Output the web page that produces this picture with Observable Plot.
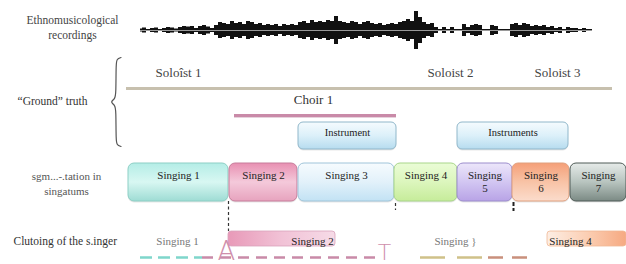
<!DOCTYPE html>
<html><head><meta charset="utf-8">
<script src="https://cdn.jsdelivr.net/npm/d3@7"></script>
<script src="https://cdn.jsdelivr.net/npm/@observablehq/plot@0.6"></script>
<style>body{margin:0;background:#fff}</style>
</head><body><div id="chart"></div>
<script>
// ---------- data ----------
const rowLabels = ["Ethnomusicological\nrecordings", "“Ground” truth", "sgm...-.tation in\nsingatums", "Clutoing of the s.inger"];
const waveStart = 140, waveStep = 4;
const waveAmp = [
  1.5,2.5,1,2,2.5,1,2,3,2.5,1.5,
  3,4,3.5,4,2,4,5,3.5,2,5,
  8,7,6,9,7,8,6,9,8,6,
  7,5,6,5,6,4,6,5,6,5,
  8,9,7,10,8,9,8,10,9,14,
  9,8,7,9,8,6,8,9,7,6,
  7,5,6,7,6,8,9,11,9,19,
  13,
  8,6,7,3,1,3,1,3,1,1,
  6,3,5,6,5,1,1,5,4,1,
  1,1,6,7,5,7,6,4,5,4,
  5,3,4,2,3,1,3,2,2,1,
  2,1,1
];
const soloLabels = ["Soloîst 1", "Soloist 2", "Soloist 3"];
const soloAt = [178, 450, 557];
const soloSpan = [126, 612];
const choirLabel = "Choir 1", choirAt = 313, choirSpan = [234, 396];
const instrLabels = ["Instrument", "Instruments"];
const instrStart = [298, 457], instrEnd = [396, 568];
const segLabels = ["Singing 1", "Singing 2", "Singing 3", "Singing 4", "Singing\n5", "Singing\n6", "Singing\n7"];
const segStart = [128, 229, 298, 394, 457, 512, 570];
const segEnd   = [228, 297, 394, 457, 512, 569, 626];
const boundaryAt = [228, 395, 513];
const clusterLabels = ["Singing 1", "Singing 2", "Singing }", "Singing 4"];
const clusterAt = [177, 312, 455, 570];
const clusterStart = [null, 228, null, 547], clusterEnd = [null, 335, null, 626];
const dashStart = [140, 202, 420, 488], dashEnd = [202, 375, 482, 527];
const markLetters = ["A", "T"], markAt = [226, 384];

// ---------- layout / style ----------
const serifCss = "'Liberation Serif', 'DejaVu Serif', 'Times New Roman', serif";
const waveY = 30, soloY = 88, choirY = 115;
const instrY = [122, 149], segY = [163, 201], clusterY = [231, 246], dashY = 257;
const segStyles = [
  {stops:["#b4ede6","#d8f7f2","#9edcd4"], stroke:"#8dcfc5"},
  {stops:["#e890b2","#f4c9da","#e7a3be"], stroke:"#c77d9b"},
  {stops:["#f6fbfe","#e2f1fa","#c2e2f4"], stroke:"#9fc4d9"},
  {stops:["#eafcd6","#dcf6bd","#c6ec9a"], stroke:"#a8d58a"},
  {stops:["#ece6fa","#d2c6f2","#b8a3e6"], stroke:"#9c8dcc"},
  {stops:["#f59f78","#f8c3a6","#fbdccc"], stroke:"#e0a07f"},
  {stops:["#e6ebe9","#b8c4bf","#7b8a84"], stroke:"#4f5b56"}
];
const instrStyle = {stops:["#f5fbfe","#dcf0f9","#b6dcef"], stroke:"#90b7ca"};
const clusterStyles = [null, {stops:["#e899b8","#f1c2d6","#f6dbe7"], stroke:"#d9a2bb", dir:"h"}, null,
  {stops:["#fdeee4","#fbcfb4","#f6a981"], stroke:"#f0b896", dir:"h"}];
const dashColors = ["#7fd6cb", "#c98aa8", "#cfc189", "#c9907c"];
const dashPatterns = ["12,6", "11,7", "25,12", "15,9"];

// ---------- tables ----------
const wave = waveAmp.map((a, i) => ({t: waveStart + i * waveStep, a}));
const segs = segLabels.map((label, i) => ({label, x1: segStart[i], x2: segEnd[i], i}));
const instr = instrLabels.map((label, i) => ({label, x1: instrStart[i], x2: instrEnd[i]}));
const clusters = clusterLabels.map((label, i) => ({label, x: clusterAt[i], x1: clusterStart[i], x2: clusterEnd[i], i}));
const dashes = dashStart.map((x1, i) => ({x1, x2: dashEnd[i], i}));

const braceX = 115.5, braceTop = 57, braceBot = 146, braceMid = (braceTop + braceBot) / 2;
const brace = [
  [braceX + 5, braceTop], [braceX + 1, braceTop + 1.5], [braceX, braceTop + 5],
  [braceX, braceMid - 8], [braceX - 1, braceMid - 3], [braceX - 6, braceMid],
  [braceX - 1, braceMid + 3], [braceX, braceMid + 8],
  [braceX, braceBot - 5], [braceX + 1, braceBot - 1.5], [braceX + 5, braceBot]
].map(([x, y]) => ({x, y}));

const boxMarks = [];
segs.forEach((s, i) => {
  boxMarks.push(Plot.rect([s], {x1: "x1", x2: "x2", y1: segY[0], y2: segY[1], rx: 6, dy: 1.5, fill: "#bbb", fillOpacity: 0.35}));
  boxMarks.push(Plot.rect([s], {x1: "x1", x2: "x2", y1: segY[0], y2: segY[1], rx: 6, fill: `url(#seg${i})`, stroke: segStyles[i].stroke, strokeWidth: 1}));
});
instr.forEach((s) => {
  boxMarks.push(Plot.rect([s], {x1: "x1", x2: "x2", y1: instrY[0], y2: instrY[1], rx: 5, dy: 1.5, fill: "#bbb", fillOpacity: 0.35}));
  boxMarks.push(Plot.rect([s], {x1: "x1", x2: "x2", y1: instrY[0], y2: instrY[1], rx: 5, fill: "url(#instr)", stroke: instrStyle.stroke}));
});
clusters.filter(c => c.x1 != null).forEach((c) => {
  boxMarks.push(Plot.rect([c], {x1: "x1", x2: "x2", y1: clusterY[0], y2: clusterY[1], rx: 3, fill: `url(#cl${c.i})`, stroke: clusterStyles[c.i].stroke, strokeWidth: 0.8}));
});

const T = (data, o) => Plot.text(data, {ariaDescription: "serif", ...o});

const chart = Plot.plot({
  width: 626, height: 264, margin: 0,
  style: {fontFamily: serifCss},
  x: {domain: [0, 626], range: [0, 626], axis: null},
  y: {domain: [0, 264], range: [0, 264], axis: null},
  marks: [
    T([rowLabels[0]], {x: 72, y: 26, text: d => d, fontSize: 11.5, fill: "#444", lineHeight: 1.3}),
    T([rowLabels[1]], {x: 52, y: 101, text: d => d, fontSize: 11.5, fill: "#333"}),
    T([rowLabels[2]], {x: 66, y: 182, text: d => d, fontSize: 11, fill: "#555", lineHeight: 1.35}),
    T([rowLabels[3]], {x: 13, y: 241, text: d => d, textAnchor: "start", fontSize: 11.5, fill: "#333"}),
    Plot.areaY(wave, {x: "t", y1: d => waveY - d.a, y2: d => waveY + d.a, fill: "#111", curve: "step"}),
    Plot.ruleY([waveY], {x1: d3.min(wave, d => d.t), x2: d3.max(wave, d => d.t), stroke: "#9a9a9a", strokeWidth: 1}),
    Plot.line(brace, {x: "x", y: "y", curve: "basis", stroke: "#555", strokeWidth: 1.2}),
    Plot.ruleY([soloY], {x1: soloSpan[0], x2: soloSpan[1], stroke: "#c7c0ae", strokeWidth: 3}),
    T(soloLabels, {x: (d, i) => soloAt[i], y: 72, text: d => d, fontSize: 13, fill: "#444"}),
    Plot.ruleY([choirY + 2], {x1: choirSpan[0], x2: choirSpan[1], stroke: "#e6d2dc", strokeWidth: 1}),
    Plot.ruleY([choirY], {x1: choirSpan[0], x2: choirSpan[1], stroke: "#c98aa8", strokeWidth: 3}),
    T([choirLabel], {x: choirAt, y: 99, text: d => d, fontSize: 13, fill: "#333"}),
    ...boxMarks,
    T(instr, {x: d => (d.x1 + d.x2) / 2, y: 132, text: "label", fontSize: 10.5, fill: "#222"}),
    T(segs, {x: d => (d.x1 + d.x2) / 2, y: 175, text: d => d.label.split("\n")[0], fontSize: 11, fill: "#222"}),
    T(segs.filter(d => d.label.includes("\n")), {x: d => (d.x1 + d.x2) / 2, y: 188, text: d => d.label.split("\n")[1], fontSize: 11, fill: "#222"}),
    Plot.ruleX([boundaryAt[0]], {y1: segY[1], y2: clusterY[0], stroke: "#333", strokeWidth: 1.2, strokeDasharray: "3,2.5"}),
    Plot.ruleX([boundaryAt[1]], {y1: segY[1] + 2, y2: segY[1] + 9, stroke: "#333", strokeWidth: 1.2, strokeDasharray: "3,2.5"}),
    Plot.ruleX([boundaryAt[2]], {y1: segY[1] + 1, y2: segY[1] + 10, stroke: "#222", strokeWidth: 2, strokeDasharray: "4,2"}),
    T(clusters, {x: "x", y: 241, text: "label", fontSize: 11, fill: d => d.x1 == null ? "#777" : "#222"}),
    ...dashes.map(d => Plot.ruleY([dashY], {x1: d.x1, x2: d.x2, stroke: dashColors[d.i], strokeWidth: 2.5, strokeDasharray: dashPatterns[d.i]})),
    Plot.text(markLetters, {x: (d, i) => markAt[i], y: 259, lineAnchor: "bottom", text: d => d, fontFamily: "DejaVu Sans", fontWeight: 200, fontSize: (d, i) => i === 0 ? 26 : 22, fill: "#cf8fac"})
  ]
});

const svg = d3.select(chart);
svg.selectAll("text").each(function () {
  if (this.textContent !== "A" && this.textContent !== "T") this.style.fontFamily = serifCss;
});
const defs = svg.insert("defs", ":first-child");
function addGrad(id, st) {
  const g = defs.append("linearGradient").attr("id", id)
    .attr("x1", 0).attr("y1", 0).attr("x2", st.dir === "h" ? 1 : 0).attr("y2", st.dir === "h" ? 0 : 1);
  st.stops.forEach((c, k) => g.append("stop").attr("offset", k / (st.stops.length - 1)).attr("stop-color", c));
}
segStyles.forEach((st, i) => addGrad(`seg${i}`, st));
addGrad("instr", instrStyle);
clusterStyles.forEach((st, i) => { if (st) addGrad(`cl${i}`, st); });

document.getElementById("chart").append(chart);
</script>
</body></html>
